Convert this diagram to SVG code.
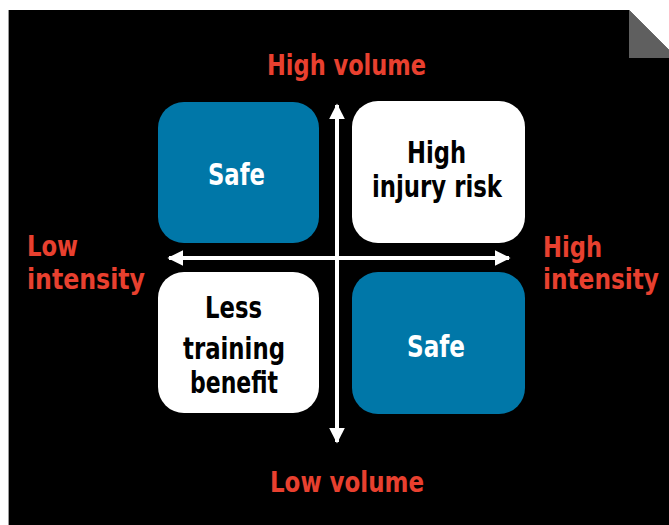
<svg xmlns="http://www.w3.org/2000/svg" width="669" height="525" viewBox="0 0 669 525">
  <defs>
    <style>
      text { font-family: "DejaVu Sans Condensed", "Liberation Sans", sans-serif; font-weight: bold; }
      .axis-label { font-size: 28px; fill: #e8402f; }
      .box-blue { fill: #0077a8; }
      .box-white { fill: #ffffff; }
      .box-text { font-size: 29.5px; }
      .on-blue { fill: #ffffff; }
      .on-white { fill: #000000; }
      .axis { stroke: #ffffff; stroke-width: 4; fill: none; }
    </style>
    <marker id="arrow" viewBox="0 0 10 10" refX="9" refY="5" markerWidth="4" markerHeight="4" orient="auto-start-reverse" markerUnits="strokeWidth">
      <path d="M0,0 L10,5 L0,10 Z" fill="#ffffff"/>
    </marker>
  </defs>

  <!-- page background with folded corner -->
  <rect x="0" y="0" width="669" height="525" fill="#ffffff"/>
  <path d="M8,10 L629,10 L669,50 L669,525 L8,525 Z" fill="#000000"/>
  <path d="M629,10 L629,58 L669,58 L669,50 Z" fill="#5f5f5f"/>
  <line x1="8.5" y1="10" x2="8.5" y2="525" stroke="#9a9a9a" stroke-width="1"/>

  <!-- axes -->
  <g id="connectors">
    <line class="axis" x1="337" y1="442" x2="337" y2="105" marker-end="url(#arrow)" marker-start="url(#arrow)"/>
    <line class="axis" x1="169" y1="258" x2="509" y2="258" marker-end="url(#arrow)" marker-start="url(#arrow)"/>
  </g>

  <!-- axis labels -->
  <g id="label-high-volume"><text class="axis-label" x="267" y="75" textLength="159" lengthAdjust="spacingAndGlyphs">High volume</text></g>
  <g id="label-low-volume"><text class="axis-label" x="270" y="492" textLength="154" lengthAdjust="spacingAndGlyphs">Low volume</text></g>
  <g id="label-low-intensity">
    <text class="axis-label" x="27" y="256" textLength="51" lengthAdjust="spacingAndGlyphs">Low</text>
    <text class="axis-label" x="27" y="289" textLength="118" lengthAdjust="spacingAndGlyphs">intensity</text>
  </g>
  <g id="label-high-intensity">
    <text class="axis-label" x="543" y="257" textLength="59" lengthAdjust="spacingAndGlyphs">High</text>
    <text class="axis-label" x="543" y="289" textLength="116" lengthAdjust="spacingAndGlyphs">intensity</text>
  </g>

  <!-- quadrant boxes -->
  <g id="box-safe-top">
    <rect class="box-blue" x="158" y="102" width="161" height="141" rx="26"/>
    <text class="box-text on-blue" x="208" y="185" textLength="57" lengthAdjust="spacingAndGlyphs">Safe</text>
  </g>
  <g id="box-high-injury">
    <rect class="box-white" x="352" y="101" width="173" height="142" rx="26"/>
    <text class="box-text on-white" x="407" y="163" textLength="59" lengthAdjust="spacingAndGlyphs">High</text>
    <text class="box-text on-white" x="372" y="197" textLength="130" lengthAdjust="spacingAndGlyphs">injury risk</text>
  </g>
  <g id="box-less-benefit">
    <rect class="box-white" x="158" y="272" width="161" height="141" rx="26"/>
    <text class="box-text on-white" x="205" y="318" textLength="57" lengthAdjust="spacingAndGlyphs">Less</text>
    <text class="box-text on-white" x="183" y="359" textLength="102" lengthAdjust="spacingAndGlyphs">training</text>
    <text class="box-text on-white" x="190" y="393" textLength="88" lengthAdjust="spacingAndGlyphs">benefit</text>
  </g>
  <g id="box-safe-bottom">
    <rect class="box-blue" x="352" y="272" width="173" height="142" rx="26"/>
    <text class="box-text on-blue" x="407" y="357" textLength="58" lengthAdjust="spacingAndGlyphs">Safe</text>
  </g>
</svg>
